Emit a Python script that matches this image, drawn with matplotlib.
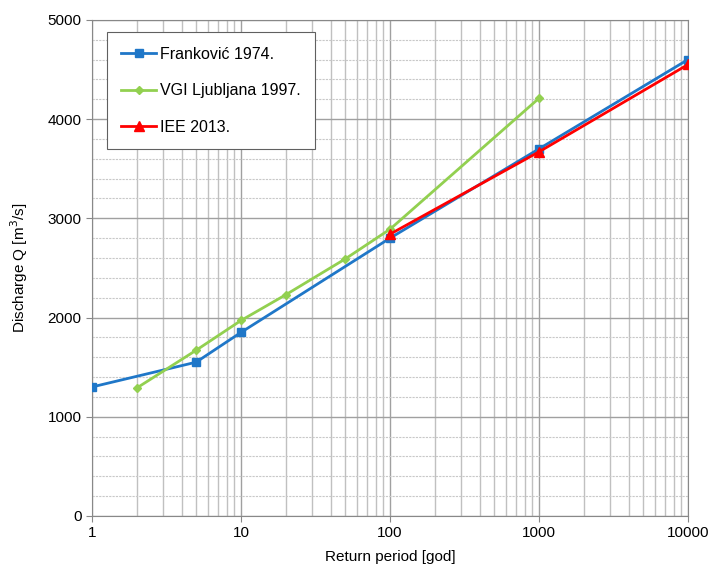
import matplotlib
matplotlib.use("Agg")
import matplotlib.pyplot as plt
from matplotlib.ticker import LogLocator, NullFormatter, MultipleLocator

plt.rcParams['font.family'] = ['Liberation Sans', 'DejaVu Sans']

# data
frank_T = [1, 5, 10, 100, 1000, 10000]
frank_Q = [1300, 1550, 1850, 2800, 3700, 4600]
vgi_T = [2, 5, 10, 20, 50, 100, 1000]
vgi_Q = [1290, 1670, 1970, 2230, 2590, 2890, 4210]
iee_T = [100, 1000, 10000]
iee_Q = [2840, 3670, 4550]

fig = plt.figure(figsize=(7.13, 5.67), dpi=100)
ax = fig.add_axes([0.129, 0.09, 0.836, 0.875])

ax.plot(frank_T, frank_Q, color='#1f77c8', marker='s', markersize=6, lw=2,
        label='Franković 1974.', zorder=3)
ax.plot(vgi_T, vgi_Q, color='#92d050', marker='D', markersize=4, lw=2,
        label='VGI Ljubljana 1997.', zorder=3)
ax.plot(iee_T, iee_Q, color='#ff0000', marker='^', markersize=7, lw=2,
        label='IEE 2013.', zorder=4)

ax.set_xscale('log')
ax.set_xlim(1, 10000)
ax.set_ylim(0, 5000)
ax.xaxis.set_minor_locator(LogLocator(base=10, subs=range(2, 10), numticks=100))
ax.xaxis.set_minor_formatter(NullFormatter())
ax.set_xticks([1, 10, 100, 1000, 10000])
ax.set_xticklabels(['1', '10', '100', '1000', '10000'])
ax.yaxis.set_major_locator(MultipleLocator(1000))
ax.yaxis.set_minor_locator(MultipleLocator(200))

ax.grid(True, which='major', axis='both', color='#a0a0a0', lw=1)
ax.grid(True, which='minor', axis='x', color='#c0c0c0', lw=1)
ax.grid(True, which='minor', axis='y', color='#c8c8c8', lw=0.8, ls=(0, (2, 1)))
ax.set_axisbelow(True)

for s in ax.spines.values():
    s.set_color('#888888')
ax.tick_params(axis='both', which='major', labelsize=11, direction='out',
               length=4, color='#888888')
ax.tick_params(axis='both', which='minor', length=0)

ax.set_xlabel('Return period [god]', fontsize=11, labelpad=7)
ax.set_ylabel('Discharge Q [m$^3$/s]', fontsize=11, labelpad=13)

leg = ax.legend(loc='upper left', bbox_to_anchor=(0.025, 0.975), fontsize=11.5,
                labelspacing=1.35, handlelength=2.2, borderpad=0.9,
                handletextpad=0.2, borderaxespad=0, fancybox=False,
                framealpha=1, edgecolor='#606060')
leg.get_frame().set_linewidth(0.8)

fig.savefig('out.png', dpi=100)
